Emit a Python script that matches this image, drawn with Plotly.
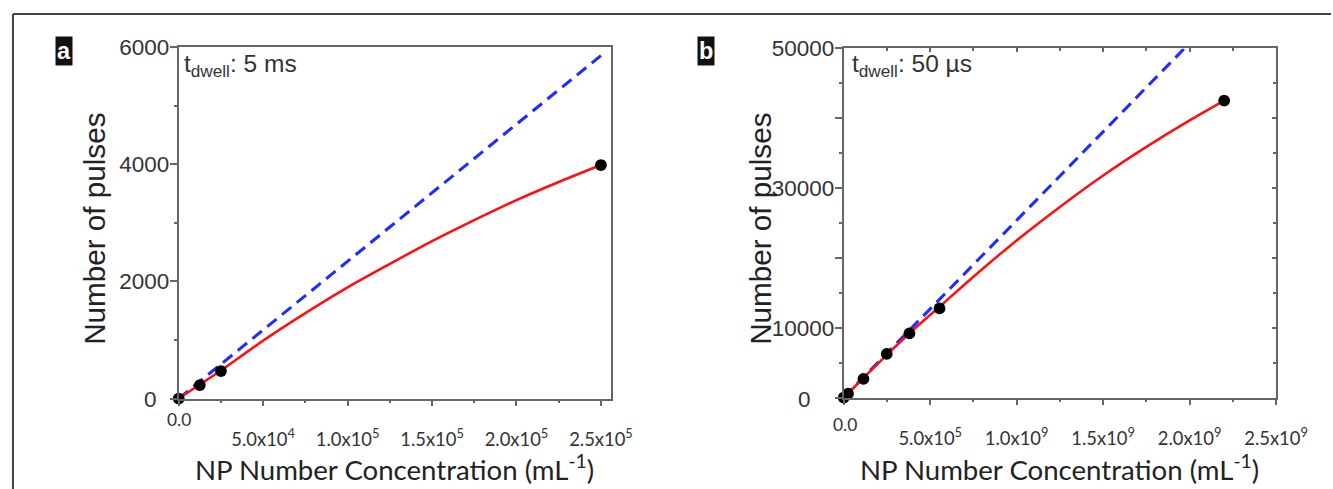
import plotly.graph_objects as go

# The photographed page shows the figure scaled by ~0.978 and shifted ~9.5 px down,
# so the figure is sized/placed so that its picture lands on the reference pixels.
PIC_W, PIC_H = 1333, 489
S = 0.978
OY = 9.5
W = round(PIC_W / S)
H = round((PIC_H - OY) / S)

# ---------------- Panel a data (t_dwell 5 ms) ----------------
a_dots_x = [0, 12500, 25000, 250000]
a_dots_y = [0, 230, 470, 3990]
a_fit_x = [0, 12500, 25000, 50000, 75000, 100000, 125000, 150000, 175000, 200000, 225000, 250000]
a_fit_y = [0, 240, 480, 990, 1460, 1900, 2300, 2690, 3050, 3390, 3700, 3990]
a_ideal_x = [0, 250000]
a_ideal_y = [0, 5860]
a_xtick_vals = [0, 50000, 100000, 150000, 200000, 250000]
a_xtick_text = ["", "5.0x10<sup>4</sup>", "1.0x10<sup>5</sup>", "1.5x10<sup>5</sup>",
                "2.0x10<sup>5</sup>", "2.5x10<sup>5</sup>"]
a_ytick_vals = [0, 2000, 4000, 6000]
a_ytick_text = ["", "2000", "4000", "6000"]

# ---------------- Panel b data (t_dwell 50 us) ----------------
b_dots_x = [0, 2.5e7, 1.14e8, 2.49e8, 3.80e8, 5.54e8, 2.20e9]
b_dots_y = [0, 550, 2670, 6240, 9190, 12760, 42530]
b_fit_x = [0, 2.5e7, 1.14e8, 2.49e8, 3.8e8, 5.54e8, 7.5e8, 1.0e9, 1.25e9,
           1.5e9, 1.75e9, 2.0e9, 2.2e9]
b_fit_y = [0, 600, 2800, 6100, 9200, 13000, 17300, 22500, 27300, 31800, 35900, 39700, 42530]
b_ideal_x = [0, 1.97e9]
b_ideal_y = [0, 50000]
b_xtick_vals = [0, 5e8, 1e9, 1.5e9, 2e9, 2.5e9]
b_xtick_text = ["", "5.0x10<sup>5</sup>", "1.0x10<sup>9</sup>", "1.5x10<sup>9</sup>",
                "2.0x10<sup>9</sup>", "2.5x10<sup>9</sup>"]
b_ytick_vals = [0, 10000, 20000, 30000, 40000, 50000]
b_ytick_text = ["", "10000", "", "30000", "", "50000"]

RED = "#ff1010"
BLUE = "#1f2bff"
AX = "#666666"
TXT = "#333333"


def px(x):
    """picture x pixel -> paper fraction"""
    return (x / S) / W


def py(y):
    """picture y pixel -> paper fraction"""
    return 1 - ((y - OY) / S) / H


def sz(v):
    return v / S


fig = go.Figure()

for xs, ys, ix, iy, dx, dy, xa, ya in [
    (a_fit_x, a_fit_y, a_ideal_x, a_ideal_y, a_dots_x, a_dots_y, "x", "y"),
    (b_fit_x, b_fit_y, b_ideal_x, b_ideal_y, b_dots_x, b_dots_y, "x2", "y2"),
]:
    fig.add_trace(go.Scatter(x=ix, y=iy, mode="lines", xaxis=xa, yaxis=ya,
                             line=dict(color=BLUE, width=sz(3), dash="12px,7px")))
    fig.add_trace(go.Scatter(x=xs, y=ys, mode="lines", xaxis=xa, yaxis=ya,
                             line=dict(color=RED, width=sz(2.5), shape="spline", smoothing=0.6)))
    fig.add_trace(go.Scatter(x=dx, y=dy, mode="markers", xaxis=xa, yaxis=ya, cliponaxis=False,
                             marker=dict(color="black", size=sz(11.5))))

# empty trace that carries panel b's mirrored (top/right, inward) tick axes
fig.add_trace(go.Scatter(x=[None], y=[None], xaxis="x3", yaxis="y3", mode="lines",
                         hoverinfo="skip", showlegend=False))

xtickfont = dict(family="Lato", size=sz(18), color=TXT)
ytickfont = dict(family="Liberation Sans", size=sz(22), color=TXT)

common_x = dict(showline=True, linecolor=AX, linewidth=sz(1.5), mirror=True, ticks="outside",
                ticklen=sz(6), tickwidth=sz(1.5), tickcolor=AX, showgrid=False, zeroline=False,
                tickfont=xtickfont, ticklabelstandoff=int(round(sz(17))))
common_y = dict(showline=True, linecolor=AX, linewidth=sz(1.5), mirror=True, ticks="outside",
                ticklen=sz(7), tickwidth=sz(1.5), tickcolor=AX, showgrid=False, zeroline=False,
                tickfont=ytickfont, ticklabelstandoff=-4)
minor_style = dict(ticks="outside", ticklen=sz(3), tickcolor=AX, showgrid=False, tick0=0)
mirror_style = dict(showline=False, showgrid=False, zeroline=False, showticklabels=False,
                    ticks="inside", ticklen=sz(4), tickwidth=sz(1.5), tickcolor=AX,
                    tickmode="array")

fig.update_layout(
    width=W, height=H, autosize=False,
    margin=dict(l=0, r=0, t=0, b=0),
    paper_bgcolor="white", plot_bgcolor="white", showlegend=False,
    xaxis=dict(domain=[px(179), px(612)], range=[0, 256000], anchor="y",
               tickmode="array", tickvals=a_xtick_vals, ticktext=a_xtick_text,
               minor=dict(dtick=25000, **minor_style), **common_x),
    yaxis=dict(domain=[py(397), py(45)], range=[0, 6000], anchor="x",
               tickmode="array", tickvals=a_ytick_vals, ticktext=a_ytick_text,
               minor=dict(dtick=1000, **minor_style), **common_y),
    xaxis2=dict(domain=[px(845), px(1278)], range=[0, 2.5e9], anchor="y2",
                tickmode="array", tickvals=b_xtick_vals, ticktext=b_xtick_text,
                minor=dict(dtick=2.5e8, **minor_style), **common_x),
    yaxis2=dict(domain=[py(396), py(46)], range=[0, 50000], anchor="x2",
                tickmode="array", tickvals=b_ytick_vals, ticktext=b_ytick_text,
                minor=dict(dtick=5000, **minor_style), **common_y),
    xaxis3=dict(overlaying="x2", anchor="y2", side="top", range=[0, 2.5e9],
                tickvals=b_xtick_vals,
                minor=dict(dtick=2.5e8, tick0=0, ticks="inside", ticklen=sz(3), tickcolor=AX),
                **mirror_style),
    yaxis3=dict(overlaying="y2", anchor="x2", side="right", range=[0, 50000],
                tickvals=b_ytick_vals,
                minor=dict(dtick=5000, tick0=0, ticks="inside", ticklen=sz(3), tickcolor=AX),
                **mirror_style),
)

ann = []
# panel letters
for letter, cx in [("a", 64), ("b", 707)]:
    ann.append(dict(text="<b>%s</b>" % letter, x=px(cx), y=py(49), xref="paper", yref="paper",
                    showarrow=False, font=dict(family="Liberation Sans", size=sz(23), color="white"),
                    bgcolor="#111111", borderpad=sz(1), xanchor="center", yanchor="middle"))
# dwell-time labels
for t, lx in [("t<sub>dwell</sub>: 5 ms", 182), ("t<sub>dwell</sub>: 50 µs", 851)]:
    ann.append(dict(text=t, x=px(lx), y=py(63), xref="paper", yref="paper", showarrow=False,
                    font=dict(family="Liberation Sans", size=sz(24), color=TXT),
                    xanchor="left", yanchor="middle"))
# displaced zero labels
for zx, zy in [(151, 398), (806, 398)]:
    ann.append(dict(text="0", x=px(zx), y=py(zy), xref="paper", yref="paper", showarrow=False,
                    font=dict(family="Liberation Sans", size=sz(22), color=TXT),
                    xanchor="center", yanchor="middle"))
for zx, zy in [(179, 418), (846, 423)]:
    ann.append(dict(text="0.0", x=px(zx), y=py(zy), xref="paper", yref="paper", showarrow=False,
                    font=dict(family="Lato", size=sz(17), color=TXT),
                    xanchor="center", yanchor="middle"))
# axis titles
for cx in [395.5, 1061.5]:
    ann.append(dict(text="NP Number Concentration (mL<sup>-1</sup>)", x=px(cx), y=py(466),
                    xref="paper", yref="paper", showarrow=False,
                    font=dict(family="Lato", size=sz(27), color="#222222"),
                    xanchor="center", yanchor="middle"))
for cx in [95, 762]:
    ann.append(dict(text="Number of pulses", x=px(cx), y=py(227), xref="paper", yref="paper",
                    showarrow=False, textangle=-90,
                    font=dict(family="Liberation Sans", size=sz(29), color="#222222"),
                    xanchor="center", yanchor="middle"))
fig.update_layout(annotations=ann)

# outer frame
shapes = [
    dict(type="line", xref="paper", yref="paper", x0=px(13), x1=1, y0=py(11.5), y1=py(11.5),
         line=dict(color="#444444", width=sz(2))),
    dict(type="line", xref="paper", yref="paper", x0=px(13), x1=px(13), y0=py(11.5), y1=0,
         line=dict(color="#444444", width=sz(2))),
]
fig.update_layout(shapes=shapes)

fig.write_html("out.html")
